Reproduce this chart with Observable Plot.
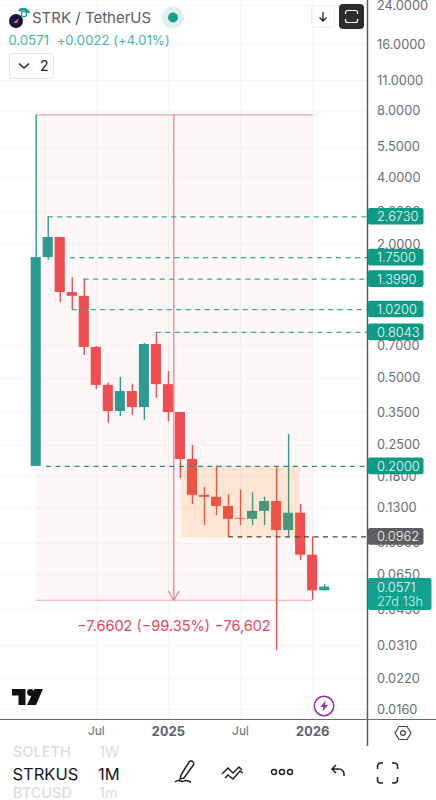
<!DOCTYPE html>
<html><head><meta charset="utf-8">
<script src="https://cdn.jsdelivr.net/npm/d3@7"></script>
<script src="https://cdn.jsdelivr.net/npm/@observablehq/plot@0.6"></script>
<style>
html,body{margin:0;padding:0;background:#fff;width:436px;height:800px;overflow:hidden;font-family:Inter,sans-serif}
#wrap{position:relative;width:436px;height:800px}
#chart svg{display:block}
.o{position:absolute;white-space:nowrap}
.btn{position:absolute;box-sizing:border-box;border-radius:4px}
</style></head><body>
<div id="wrap">
<div id="chart"></div>
<div class="o" style="left:32px;top:8px;font-size:15px;color:#5a5d66">STRK / TetherUS</div>
<svg class="o" style="left:7px;top:6px" width="24" height="22" viewBox="0 0 24 22"><path d="M12 5a6 6 0 0 1 10 2" fill="none" stroke="#1b9c8e" stroke-width="2.6"/><circle cx="17" cy="8" r="2.6" fill="none" stroke="#1b9c8e" stroke-width="1.4"/><circle cx="9" cy="15" r="7" fill="#14143c"/><path d="M6 17l6-5-2 5z" fill="#e86a8a"/></svg>
<svg class="o" style="left:161px;top:6px" width="24" height="24"><circle cx="12" cy="11.5" r="11" fill="#dff0ee"/><circle cx="12" cy="11.5" r="5" fill="#12a08f"/></svg>
<div class="o" style="left:8.5px;top:32px;font-size:13px;color:#45b3a1;letter-spacing:.1px">0.0571&nbsp; +0.0022 (+4.01%)</div>
<div class="btn" style="left:8.5px;top:53px;width:45px;height:26px;border:1px solid #e4e4e6"></div>
<svg class="o" style="left:17px;top:61px" width="14" height="10"><path d="M2 2.5l5 4.5 5-4.5" fill="none" stroke="#222" stroke-width="1.4"/></svg>
<div class="o" style="left:40px;top:57px;font-size:14px;color:#222">2</div>
<div class="btn" style="left:311px;top:5px;width:24px;height:23px;border:1px solid #eeeeee"></div>
<svg class="o" style="left:316px;top:10px" width="14" height="14"><path d="M7 2v9M3.5 7.5L7 11l3.5-3.5" fill="none" stroke="#222" stroke-width="1.3"/></svg>
<div class="btn" style="left:339px;top:4px;width:24.5px;height:24.5px;background:#2c2c2e"></div>
<svg class="o" style="left:344px;top:9px" width="15" height="15"><path d="M1.5 5V3.5a2 2 0 0 1 2-2h8a2 2 0 0 1 2 2V5M1.5 10v1.5a2 2 0 0 0 2 2h8a2 2 0 0 0 2-2V10" fill="none" stroke="#fff" stroke-width="1.2"/></svg>
<svg class="o" style="left:12px;top:689px" width="31" height="17" viewBox="0 0 31 17"><path d="M0 0h13.5v16H6.5V6.5H0z" fill="#111"/><circle cx="18.5" cy="3.5" r="3.4" fill="#111"/><path d="M22.5 0H31l-7 16h-9z" fill="#111"/></svg>
<svg class="o" style="left:313px;top:695px" width="22" height="22"><circle cx="11" cy="11" r="9.7" fill="#fff" stroke="#9c27b0" stroke-width="1.5"/><path d="M12.5 5.5L7.5 12h3l-1 4.5L15 10h-3.2z" fill="#9c27b0"/></svg>
<svg class="o" style="left:394px;top:724px" width="18" height="18"><path d="M5 2.5h8l4 6.5-4 6.5H5L1 9z" fill="none" stroke="#444" stroke-width="1.2"/><circle cx="9" cy="9" r="2.4" fill="none" stroke="#444" stroke-width="1.2"/></svg>
<div class="o" style="left:13px;top:745px;font-size:14.5px;font-weight:500;color:#dcdcde;line-height:14px">SOLETH</div>
<div class="o" style="left:99px;top:745px;font-size:14.5px;color:#dcdcde;line-height:14px">1W</div>
<div class="o" style="left:12.5px;top:764px;font-size:16.5px;color:#131722;line-height:20px">STRKUS</div>
<div class="o" style="left:98px;top:764px;font-size:16.5px;color:#131722;line-height:20px">1M</div>
<div class="o" style="left:13px;top:786px;font-size:14.5px;font-weight:500;color:#dcdcde;line-height:14px">BTCUSD</div>
<div class="o" style="left:99px;top:786px;font-size:14.5px;color:#dcdcde;line-height:14px">1m</div>
<svg class="o" style="left:172px;top:758px" width="26" height="28"><path d="M9 17L17 4c1-1.500 3-1 4 0s1 2.500 0 3.500L12 20l-4 1z" fill="none" stroke="#222" stroke-width="1.5"/><path d="M3 24c4-4 6 1 9-1s5 1 7 1" fill="none" stroke="#222" stroke-width="1.500"/></svg>
<svg class="o" style="left:220px;top:760px" width="26" height="22"><path d="M2 14l6-6 5 5 6-6 3 3M5 18l3-3 5 4 7-8 3 2" fill="none" stroke="#222" stroke-width="1.5"/></svg>
<svg class="o" style="left:270px;top:767px" width="24" height="10"><circle cx="4" cy="5" r="2.500" fill="none" stroke="#222" stroke-width="1.4"/><circle cx="12" cy="5" r="2.500" fill="none" stroke="#222" stroke-width="1.4"/><circle cx="20" cy="5" r="2.500" fill="none" stroke="#222" stroke-width="1.4"/></svg>
<svg class="o" style="left:330px;top:763px" width="16" height="16"><path d="M6 2L2 6l4 4M2 6h7a5 5 0 0 1 5 5v2" fill="none" stroke="#222" stroke-width="1.5"/></svg>
<svg class="o" style="left:376px;top:762px" width="23" height="22"><path d="M1.500 7V4a3 3 0 0 1 3-3H7M16 1h2.500a3 3 0 0 1 3 3v3M21.500 15v3a3 3 0 0 1-3 3H16M7 21H4.500a3 3 0 0 1-3-3v-3" fill="none" stroke="#222" stroke-width="1.5"/></svg>
</div>
<script>
// Monthly candles, Feb 2024 onward (index = months since Feb 2024)
const opens  = [0.2000,1.7500,2.1550,1.2170,1.1700,0.6880,0.4640,0.3535,0.4354,0.3686,0.7090,0.4675,0.3500,0.2149,0.1480,0.1450,0.1318,0.1165,0.1154,0.1254,0.1388,0.1027,0.1229,0.0795,0.0549];
const highs  = [7.7100,2.6730,2.1550,1.4200,1.3990,0.6950,0.4750,0.5040,0.4700,0.7170,0.8043,0.5360,0.3500,0.2485,0.1607,0.2000,0.1491,0.1566,0.1520,0.1453,0.1980,0.2786,0.1346,0.0962,0.0585];
const lows   = [0.2000,1.7000,1.0950,1.0200,0.6330,0.4450,0.3130,0.3360,0.3400,0.3230,0.4060,0.3180,0.1760,0.1346,0.1082,0.1200,0.0962,0.1082,0.1082,0.1082,0.0295,0.0962,0.0755,0.0498,0.0549];
const closes = [1.7500,2.1550,1.2170,1.1700,0.6880,0.4640,0.3535,0.4354,0.3686,0.7090,0.4675,0.3500,0.2149,0.1480,0.1450,0.1318,0.1154,0.1154,0.1254,0.1388,0.1027,0.1229,0.0795,0.0549,0.0571];
const yTicks = [24,16,11,8,5.5,4,2.8,2,0.7,0.5,0.35,0.25,0.18,0.13,0.09,0.065,0.045,0.031,0.022,0.016];
const monthTicks = [5,17];
const monthLabels = ["Jul","Jul"];
const yearTicks = [11,23];
const yearLabels = ["2025","2026"];
const levelPrices = [2.673,1.75,1.399,1.02,0.8043,0.2];
const levelStarts = [1,2.85,4,3,10,0.85];
const levelColors = ["#3aa797","#3aa797","#3aa797","#3aa797","#3aa797","#1f9478"];
const levelLabels = ["2.6730","1.7500","1.3990","1.0200","0.8043","0.2000"];
const supportPrice = 0.0962, supportStart = 16, supportLabel = "0.0962";
const rangeTop = 7.71, rangeBottom = 0.0498, rangeStart = 0, rangeEnd = 23.05, rangeX = 11.45;
const rangeLabel = "\u22127.6602 (\u221299.35%) \u221276,602";
const boxTop = 0.2, boxBottom = 0.0955, boxStart = 12.08, boxEnd = 21.95;
const lastPrice = 0.0571, lastLabel = "0.0571", countdown = "27d 13h";

const green="#26a092", red="#f04f51", tagGreen="#0f9a85", tagGray="#5e5e60";
const idx = opens.map((_,i)=>i);
const pxPerLn = 96.27;
const frameTopPrice = 24*Math.exp(5/pxPerLn);
const frameBottomPrice = 24*Math.exp(-714/pxPerLn);
const axisBottomPrice = 24*Math.exp(-741/pxPerLn);
const xLeft = -35.7/12.02, xRight = (367-35.7)/12.02;
const tagX1 = (368-35.7)/12.02, tagX2 = (423.5-35.7)/12.02, tagX3 = (431.5-35.7)/12.02;
const tagTextX = (376.5-35.7)/12.02;
const tagK = Math.exp(8.3/pxPerLn);

const tag = (p,fill)=>Plot.rect([p],{x1:tagX1,x2:tagX2,y1:d=>d/tagK,y2:d=>d*tagK,fill,rx:2});

const chart = Plot.plot({
  width:436,height:747,
  marginTop:0,marginLeft:0,marginRight:69,marginBottom:28,
  style:{fontFamily:"Inter, sans-serif",background:"transparent",overflow:"visible"},
  x:{type:"linear",domain:[xLeft,xRight],range:[0,367],axis:null},
  y:{type:"log",domain:[frameBottomPrice,frameTopPrice],range:[719,0],axis:null},
  marks:[
    Plot.ruleX([...monthTicks,...yearTicks],{stroke:"#f6f6f8",strokeWidth:1}),
    Plot.ruleY(yTicks,{x1:xLeft,x2:xRight,stroke:"#f6f6f8",strokeWidth:1}),
    Plot.text(yTicks,{x:tagTextX,y:d=>d,text:d=>d.toFixed(4),textAnchor:"start",fontSize:12.8,fill:"#6a6d75"}),
    Plot.axisX({anchor:"bottom",ticks:monthTicks,tickFormat:(d,i)=>monthLabels[i],tickSize:0,tickPadding:7,fontSize:12,color:"#6a6d75",label:null}),
    Plot.axisX({anchor:"bottom",ticks:yearTicks,tickFormat:(d,i)=>yearLabels[i],tickSize:0,tickPadding:7,fontSize:13,fontWeight:700,color:"#5f626a",label:null}),
    // candles
    Plot.ruleX(idx,{x:i=>i,y1:i=>lows[i],y2:i=>highs[i],stroke:i=>closes[i]>=opens[i]?green:red,strokeWidth:1.4}),
    Plot.rect(idx,{x1:i=>i-0.42,x2:i=>i+0.42,y1:i=>opens[i],y2:i=>closes[i],fill:i=>closes[i]>=opens[i]?green:red}),
    // shaded drawings
    Plot.rect([0],{x1:rangeStart,x2:rangeEnd,y1:rangeBottom,y2:rangeTop,fill:"#f23645",fillOpacity:0.04}),
    Plot.rect([0],{x1:boxStart,x2:boxEnd,y1:boxBottom,y2:boxTop,fill:"#f57c00",fillOpacity:0.14}),
    Plot.ruleY([rangeTop,rangeBottom],{x1:rangeStart,x2:rangeEnd,stroke:"#f5a3a9",strokeWidth:1.2}),
    Plot.arrow([0],{x:rangeX,y1:rangeTop,y2:rangeBottom,stroke:"#ee7b84",strokeWidth:1.2,headLength:13,bend:0}),
    Plot.text([rangeLabel],{x:rangeX,y:0.0379,text:d=>d,fill:"#e9475b",fontSize:14.5}),
    // dashed levels
    Plot.ruleY(levelPrices,{x1:(d,i)=>levelStarts[i],x2:xRight,stroke:(d,i)=>levelColors[i],strokeWidth:1.2,strokeDasharray:"5,4.5"}),
    Plot.ruleY([supportPrice],{x1:supportStart,x2:xRight,stroke:"#444",strokeWidth:1.2,strokeDasharray:"5,4.5"}),
    // frame lines
    Plot.ruleX([xRight],{y1:axisBottomPrice,y2:frameTopPrice,stroke:"#5a5a5c",strokeWidth:1.5}),
    Plot.ruleY([frameBottomPrice],{x1:xLeft,x2:xRight+69/12.02,stroke:"#6b6b6d",strokeWidth:1.2}),
    // price tags
    ...levelPrices.map(p=>tag(p,tagGreen)),
    tag(supportPrice,tagGray),
    Plot.rect([0],{x1:tagX1,x2:tagX3,y1:lastPrice/Math.exp(23.5/pxPerLn),y2:lastPrice*Math.exp(8.5/pxPerLn),fill:"#12a08f",rx:2}),
    Plot.text(levelPrices,{x:tagTextX,y:d=>d,text:(d,i)=>levelLabels[i],textAnchor:"start",fill:"#eefaf7",fontSize:12.8,fontWeight:300,dy:0.5}),
    Plot.text([supportPrice],{x:tagTextX,y:d=>d,text:()=>supportLabel,textAnchor:"start",fill:"#f2f2f2",fontSize:12.8,fontWeight:300,dy:0.5}),
    Plot.text([lastPrice],{x:tagTextX,y:d=>d,text:()=>lastLabel,textAnchor:"start",fill:"#eefaf7",fontSize:12.8,fontWeight:300,dy:0.5}),
    Plot.text([lastPrice],{x:tagTextX,y:d=>d,text:()=>countdown,textAnchor:"start",fill:"#cdeee7",fontSize:12.8,fontWeight:300,dy:15})
  ]
});
document.getElementById("chart").appendChild(chart);
</script>
</body></html>
